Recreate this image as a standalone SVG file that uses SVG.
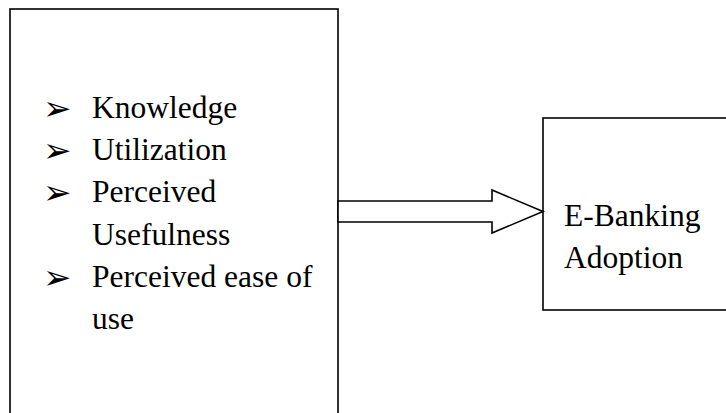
<svg xmlns="http://www.w3.org/2000/svg" width="726" height="413" viewBox="0 0 726 413">
<style>
.box{fill:#fff;stroke:#000;stroke-width:1.6}
.t{font-family:"Liberation Serif","Times New Roman",serif;font-size:31.5px;fill:#000}
.b{font-family:"DejaVu Sans",sans-serif;font-size:34px;fill:#000}
.conn{fill:#fff;stroke:#000;stroke-width:1.6;stroke-linejoin:miter}
</style>
<rect width="726" height="413" fill="#fff"/>
<g id="factors">
<rect class="box" x="10" y="9" width="328" height="420"/>
<text class="b" x="43" y="120">➢</text>
<text class="t" x="92" y="118">Knowledge</text>
<text class="b" x="43" y="162">➢</text>
<text class="t" x="92" y="160">Utilization</text>
<text class="b" x="43" y="204">➢</text>
<text class="t" x="92" y="202">Perceived</text>
<text class="t" x="92" y="245">Usefulness</text>
<text class="b" x="43" y="289">➢</text>
<text class="t" x="92" y="287">Perceived ease of</text>
<text class="t" x="92" y="329">use</text>
</g>
<g id="adoption">
<rect class="box" x="543" y="118" width="200" height="192"/>
<text class="t" x="564" y="226">E-Banking</text>
<text class="t" x="564" y="268">Adoption</text>
</g>
<g id="connectors">
<polygon class="conn" points="338,201 492,201 492,190 543,211.5 492,233 492,222 338,222"/>
</g>
</svg>
